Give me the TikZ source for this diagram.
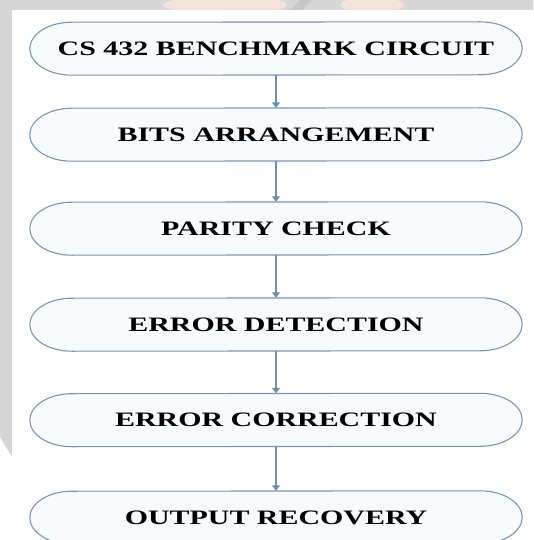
\documentclass[tikz,border=0pt]{standalone}
\usepackage{fontspec}
\setmainfont{Liberation Serif}[FakeStretch=1.46]
\usetikzlibrary{arrows.meta,calc,backgrounds}
\definecolor{edgecol}{HTML}{7D96B0}
\definecolor{arrowcol}{HTML}{6E8DAE}
\definecolor{boxfill}{HTML}{F7FBFE}
\definecolor{bggray}{HTML}{D6D6D6}
\definecolor{wmorange}{HTML}{F3E3DA}
\definecolor{wmdark}{HTML}{C8C8C8}
\tikzset{
  stage/.style={rectangle, draw=none, minimum width=492pt, minimum height=53pt,
    inner sep=0pt, font=\fontsize{20.5}{24}\selectfont\bfseries, text=black},
  stageline/.style={draw=edgecol, line width=1.1pt, fill=boxfill},
  flow/.style={draw=arrowcol, line width=1.3pt, -{Triangle[width=8pt,length=5.5pt]}}
}
\begin{document}
\begin{tikzpicture}[x=1pt,y=-1pt]
\useasboundingbox (0,0) rectangle (533,540);
% nodes
\node[stage] (s1) at (276,48.5) {CS 432 BENCHMARK CIRCUIT};
\node[stage] (s2) at (276,134.5) {BITS ARRANGEMENT};
\node[stage] (s3) at (276,228.5) {PARITY CHECK};
\node[stage] (s4) at (276,324.5) {ERROR DETECTION};
\node[stage] (s5) at (276,420) {ERROR CORRECTION};
\node[stage] (s6) at (276,517.5) {OUTPUT RECOVERY};
\begin{scope}[on background layer]
  % background and faint watermark
  \fill[bggray] (0,0) -- (533,0) -- (533,10) -- (12,10) -- (12,457) -- (0,437) -- cycle;
  \fill[wmorange] (225,5) ellipse[x radius=62pt, y radius=9pt];
  \fill[wmorange] (372,5) ellipse[x radius=32pt, y radius=8pt];
  \fill[wmdark] (290,10) -- (300,0) -- (312,0) -- (302,10) -- cycle;
  \fill[white] (12,10) rectangle (533,540);
  % outlines
  \foreach \n in {s1,s2,s3,s4,s5,s6}{
    \path[stageline] ($(\n.north east)+(-42pt,0pt)$)
      arc[start angle=90, end angle=-90, x radius=42pt, y radius=26.5pt]
      -- ($(\n.south west)+(42pt,0pt)$)
      arc[start angle=270, end angle=90, x radius=42pt, y radius=26.5pt]
      -- cycle;
  }
\end{scope}
% connectors
\draw[flow] (s1.south) -- (s2.north);
\draw[flow] (s2.south) -- (s3.north);
\draw[flow] (s3.south) -- (s4.north);
\draw[flow] (s4.south) -- (s5.north);
\draw[flow] (s5.south) -- (s6.north);
\end{tikzpicture}
\end{document}
